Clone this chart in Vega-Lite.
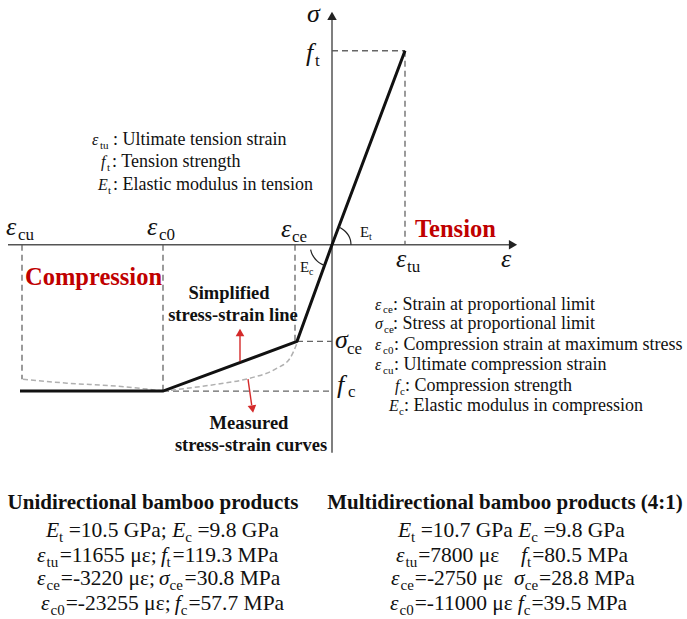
{
  "$schema": "https://vega.github.io/schema/vega-lite/v6.json",
  "width": 687,
  "height": 619,
  "autosize": {"type": "fit", "contains": "padding"},
  "padding": 0,
  "background": "white",
  "config": {"view": {"stroke": null}},
  "datasets": {
    "refs": [
      {"id": "a", "o": 0, "x": -310, "y": 0}, {"id": "a", "o": 1, "x": -310, "y": -135},
      {"id": "b", "o": 0, "x": -169, "y": 0}, {"id": "b", "o": 1, "x": -169, "y": -147},
      {"id": "c", "o": 0, "x": -37, "y": 0}, {"id": "c", "o": 1, "x": -37, "y": -97},
      {"id": "d", "o": 0, "x": -169, "y": -147}, {"id": "d", "o": 1, "x": 0, "y": -147},
      {"id": "e", "o": 0, "x": -35, "y": -97}, {"id": "e", "o": 1, "x": 0, "y": -97},
      {"id": "f", "o": 0, "x": 0, "y": 195}, {"id": "f", "o": 1, "x": 73, "y": 195},
      {"id": "g", "o": 0, "x": 73, "y": 195}, {"id": "g", "o": 1, "x": 73, "y": 0}
    ],
    "measured": [
      {"id": "m1", "o": 0, "x": -309, "y": -135}, {"id": "m1", "o": 1, "x": -265, "y": -139},
      {"id": "m1", "o": 2, "x": -215, "y": -142}, {"id": "m1", "o": 3, "x": -185, "y": -145},
      {"id": "m1", "o": 4, "x": -169, "y": -147},
      {"id": "m2", "o": 0, "x": -169, "y": -147}, {"id": "m2", "o": 1, "x": -115, "y": -140},
      {"id": "m2", "o": 2, "x": -82, "y": -134}, {"id": "m2", "o": 3, "x": -55, "y": -124},
      {"id": "m2", "o": 4, "x": -42, "y": -114}, {"id": "m2", "o": 5, "x": -35, "y": -99}
    ],
    "axes": [
      {"id": "h", "o": 0, "x": -324, "y": 0}, {"id": "h", "o": 1, "x": 180, "y": 0},
      {"id": "v", "o": 0, "x": 0, "y": -209}, {"id": "v", "o": 1, "x": 0, "y": 229}
    ],
    "headRight": [{"x": 181, "y": 0}],
    "headUp": [{"x": 0, "y": 230}],
    "simplified": [
      {"o": 0, "x": 73, "y": 195}, {"o": 1, "x": 0, "y": 0}, {"o": 2, "x": -35, "y": -97},
      {"o": 3, "x": -169, "y": -147}, {"o": 4, "x": -312, "y": -147}
    ],
    "arcs": [
      {"id": "t", "o": 0, "x": 19, "y": 0}, {"id": "t", "o": 1, "x": 18.4, "y": 4.9},
      {"id": "t", "o": 2, "x": 16.5, "y": 9.5}, {"id": "t", "o": 3, "x": 13.4, "y": 13.4},
      {"id": "t", "o": 4, "x": 9.5, "y": 16.5}, {"id": "t", "o": 5, "x": 6.8, "y": 17.7},
      {"id": "c", "o": 0, "x": -21.4, "y": -4.9}, {"id": "c", "o": 1, "x": -20.2, "y": -8.7},
      {"id": "c", "o": 2, "x": -18.0, "y": -12.6}, {"id": "c", "o": 3, "x": -15.0, "y": -16.1},
      {"id": "c", "o": 4, "x": -11.5, "y": -18.8}, {"id": "c", "o": 5, "x": -7.4, "y": -20.7}
    ],
    "redShafts": [
      {"id": "u", "o": 0, "x": -92, "y": -117}, {"id": "u", "o": 1, "x": -92, "y": -90},
      {"id": "d", "o": 0, "x": -84, "y": -135}, {"id": "d", "o": 1, "x": -80.3, "y": -161}
    ],
    "redHeadUp": [{"x": -92, "y": -88}],
    "redHeadDown": [{"x": -79.5, "y": -165}],
    "symBig": [
      {"x": -326, "y": 10, "t": "ε"}, {"x": -185, "y": 10, "t": "ε"}, {"x": -51, "y": 8, "t": "ε"},
      {"x": 64, "y": -22, "t": "ε"}, {"x": 169, "y": -22, "t": "ε"}, {"x": -25, "y": 224, "t": "σ"},
      {"x": -26, "y": 185, "t": "f"}, {"x": 3, "y": -104, "t": "σ"}, {"x": 5, "y": -149, "t": "f"}
    ],
    "subBig": [
      {"x": -314, "y": 5, "t": "cu"}, {"x": -173, "y": 5, "t": "c0"}, {"x": -40, "y": 3, "t": "ce"},
      {"x": 75, "y": -27, "t": "tu"}, {"x": -17, "y": 180, "t": "t"}, {"x": 15, "y": -110, "t": "ce"},
      {"x": 16, "y": -153, "t": "c"}
    ],
    "angleE": [{"x": 28, "y": 8, "t": "E"}, {"x": -32, "y": -27, "t": "E"}],
    "angleSub": [{"x": 37, "y": 5, "t": "t"}, {"x": -23, "y": -30, "t": "c"}],
    "redLbl": [{"x": 83, "y": 8, "t": "Tension"}, {"x": -307, "y": -40, "t": "Compression"}],
    "boldLbl": [
      {"x": -103, "y": -54, "t": "Simplified"}, {"x": -99, "y": -77, "t": "stress-strain line"},
      {"x": -83, "y": -185, "t": "Measured"}, {"x": -81, "y": -207, "t": "stress-strain curves"}
    ],
    "legSym": [
      {"x": -240, "y": 100, "t": "ε"}, {"x": -231, "y": 78, "t": "f"}, {"x": -234, "y": 55, "t": "E"},
      {"x": 43, "y": -65, "t": "ε"}, {"x": 43, "y": -85, "t": "σ"}, {"x": 43, "y": -106, "t": "ε"},
      {"x": 43, "y": -126, "t": "ε"}, {"x": 63, "y": -147, "t": "f"}, {"x": 57, "y": -167, "t": "E"}
    ],
    "legSub": [
      {"x": -232, "y": 96, "t": "tu"}, {"x": -225, "y": 74, "t": "t"}, {"x": -224, "y": 51, "t": "t"},
      {"x": 51, "y": -69, "t": "ce"}, {"x": 52, "y": -89, "t": "ce"}, {"x": 51, "y": -110, "t": "c0"},
      {"x": 51, "y": -130, "t": "cu"}, {"x": 68, "y": -151, "t": "c"}, {"x": 67, "y": -171, "t": "c"}
    ],
    "legTxt": [
      {"x": -219, "y": 100, "t": ": Ultimate tension strain"},
      {"x": -220, "y": 78, "t": ": Tension strength"},
      {"x": -219, "y": 55, "t": ": Elastic modulus in tension"},
      {"x": 61, "y": -65, "t": ": Strain at proportional limit"},
      {"x": 61, "y": -85, "t": ": Stress at proportional limit"},
      {"x": 62, "y": -106, "t": ": Compression strain at maximum stress"},
      {"x": 62, "y": -126, "t": ": Ultimate compression strain"},
      {"x": 73, "y": -147, "t": ": Compression strength"},
      {"x": 72, "y": -167, "t": ": Elastic modulus in compression"}
    ],
    "tabHead": [
      {"x": -179, "y": -265, "t": "Unidirectional bamboo products"},
      {"x": 173, "y": -265, "t": "Multidirectional bamboo products (4:1)"}
    ],
    "tabSym": [
      {"x": -286, "y": -294, "t": "E"}, {"x": -159.8, "y": -294, "t": "E"},
      {"x": -295, "y": -319, "t": "ε"}, {"x": -171, "y": -319, "t": "f"},
      {"x": -295, "y": -342, "t": "ε"}, {"x": -173, "y": -342, "t": "σ"},
      {"x": -291, "y": -367, "t": "ε"}, {"x": -157.3, "y": -367, "t": "f"},
      {"x": 66, "y": -294, "t": "E"}, {"x": 186.2, "y": -294, "t": "E"},
      {"x": 64, "y": -319, "t": "ε"}, {"x": 189, "y": -319, "t": "f"},
      {"x": 59, "y": -342, "t": "ε"}, {"x": 182, "y": -342, "t": "σ"},
      {"x": 58, "y": -367, "t": "ε"}, {"x": 185.7, "y": -367, "t": "f"}
    ],
    "tabSub": [
      {"x": -272.9, "y": -299, "t": "t"}, {"x": -146.7, "y": -299, "t": "c"},
      {"x": -285.5, "y": -324, "t": "tu"}, {"x": -165.5, "y": -324, "t": "t"},
      {"x": -285.5, "y": -347, "t": "ce"}, {"x": -162.5, "y": -347, "t": "ce"},
      {"x": -281.5, "y": -372, "t": "c0"}, {"x": -151.3, "y": -372, "t": "c"},
      {"x": 79.1, "y": -299, "t": "t"}, {"x": 199.3, "y": -299, "t": "c"},
      {"x": 73.5, "y": -324, "t": "tu"}, {"x": 195, "y": -324, "t": "t"},
      {"x": 68.5, "y": -347, "t": "ce"}, {"x": 192.8, "y": -347, "t": "ce"},
      {"x": 67.5, "y": -372, "t": "c0"}, {"x": 191.7, "y": -372, "t": "c"}
    ],
    "tabTxt": [
      {"x": -263.3, "y": -294, "t": "=10.5 GPa;"}, {"x": -134.6, "y": -294, "t": "=9.8 GPa"},
      {"x": -272.3, "y": -319, "t": "=11655 με;"}, {"x": -159.5, "y": -319, "t": "=119.3 MPa"},
      {"x": -271.2, "y": -342, "t": "=-3220 με;"}, {"x": -147.4, "y": -342, "t": "=30.8 MPa"},
      {"x": -266.3, "y": -367, "t": "=-23255 με;"}, {"x": -143.6, "y": -367, "t": "=57.7 MPa"},
      {"x": 88.7, "y": -294, "t": "=10.7 GPa"}, {"x": 211.4, "y": -294, "t": "=9.8 GPa"},
      {"x": 86.2, "y": -319, "t": "=7800 με"}, {"x": 200.2, "y": -319, "t": "=80.5 MPa"},
      {"x": 82.8, "y": -342, "t": "=-2750 με"}, {"x": 207.1, "y": -342, "t": "=28.8 MPa"},
      {"x": 82.7, "y": -367, "t": "=-11000 με"}, {"x": 199.4, "y": -367, "t": "=39.5 MPa"}
    ]
  },
  "encoding": {
    "x": {"field": "x", "type": "quantitative", "scale": {"domain": [-332, 355], "nice": false, "zero": false}, "axis": null},
    "y": {"field": "y", "type": "quantitative", "scale": {"domain": [-376, 243], "nice": false, "zero": false}, "axis": null}
  },
  "layer": [
    {"data": {"name": "refs"}, "mark": {"type": "line", "color": "#666666", "strokeWidth": 1.3, "strokeDash": [6, 4]},
     "encoding": {"detail": {"field": "id"}, "order": {"field": "o"}}},
    {"data": {"name": "measured"}, "mark": {"type": "line", "color": "#b0b0b0", "strokeWidth": 1.5, "strokeDash": [5, 3], "interpolate": "monotone"},
     "encoding": {"detail": {"field": "id"}, "order": {"field": "o"}}},
    {"data": {"name": "axes"}, "mark": {"type": "line", "color": "#555555", "strokeWidth": 1.5},
     "encoding": {"detail": {"field": "id"}, "order": {"field": "o"}}},
    {"data": {"name": "headRight"}, "mark": {"type": "point", "shape": "triangle-right", "filled": true, "color": "#222222", "size": 90, "opacity": 1}},
    {"data": {"name": "headUp"}, "mark": {"type": "point", "shape": "triangle-up", "filled": true, "color": "#222222", "size": 90, "opacity": 1}},
    {"data": {"name": "simplified"}, "mark": {"type": "line", "color": "#111111", "strokeWidth": 3, "strokeJoin": "miter"},
     "encoding": {"order": {"field": "o"}}},
    {"data": {"name": "arcs"}, "mark": {"type": "line", "color": "#222222", "strokeWidth": 1.2, "interpolate": "cardinal"},
     "encoding": {"detail": {"field": "id"}, "order": {"field": "o"}}},
    {"data": {"name": "redShafts"}, "mark": {"type": "line", "color": "#d42a2a", "strokeWidth": 1.4},
     "encoding": {"detail": {"field": "id"}, "order": {"field": "o"}}},
    {"data": {"name": "redHeadUp"}, "mark": {"type": "point", "shape": "triangle-up", "filled": true, "color": "#d42a2a", "size": 75, "opacity": 1}},
    {"data": {"name": "redHeadDown"}, "mark": {"type": "point", "shape": "triangle-down", "filled": true, "color": "#d42a2a", "size": 75, "opacity": 1, "angle": -9}},
    {"data": {"name": "symBig"}, "mark": {"type": "text", "align": "left", "baseline": "alphabetic", "font": "Liberation Serif", "fontSize": 26, "fontStyle": "italic", "color": "#111111"},
     "encoding": {"text": {"field": "t"}}},
    {"data": {"name": "subBig"}, "mark": {"type": "text", "align": "left", "baseline": "alphabetic", "font": "Liberation Serif", "fontSize": 17, "color": "#111111"},
     "encoding": {"text": {"field": "t"}}},
    {"data": {"name": "angleE"}, "mark": {"type": "text", "align": "left", "baseline": "alphabetic", "font": "Liberation Serif", "fontSize": 15, "color": "#111111"},
     "encoding": {"text": {"field": "t"}}},
    {"data": {"name": "angleSub"}, "mark": {"type": "text", "align": "left", "baseline": "alphabetic", "font": "Liberation Serif", "fontSize": 10, "color": "#111111"},
     "encoding": {"text": {"field": "t"}}},
    {"data": {"name": "redLbl"}, "mark": {"type": "text", "align": "left", "baseline": "alphabetic", "font": "Liberation Serif", "fontSize": 24.5, "fontWeight": "bold", "color": "#c00000"},
     "encoding": {"text": {"field": "t"}}},
    {"data": {"name": "boldLbl"}, "mark": {"type": "text", "align": "center", "baseline": "alphabetic", "font": "Liberation Serif", "fontSize": 18.5, "fontWeight": "bold", "color": "#111111"},
     "encoding": {"text": {"field": "t"}}},
    {"data": {"name": "legSym"}, "mark": {"type": "text", "align": "left", "baseline": "alphabetic", "font": "Liberation Serif", "fontSize": 16, "fontStyle": "italic", "color": "#111111"},
     "encoding": {"text": {"field": "t"}}},
    {"data": {"name": "legSub"}, "mark": {"type": "text", "align": "left", "baseline": "alphabetic", "font": "Liberation Serif", "fontSize": 11, "color": "#111111"},
     "encoding": {"text": {"field": "t"}}},
    {"data": {"name": "legTxt"}, "mark": {"type": "text", "align": "left", "baseline": "alphabetic", "font": "Liberation Serif", "fontSize": 18, "color": "#111111"},
     "encoding": {"text": {"field": "t"}}},
    {"data": {"name": "tabHead"}, "mark": {"type": "text", "align": "center", "baseline": "alphabetic", "font": "Liberation Serif", "fontSize": 21, "fontWeight": "bold", "color": "#111111"},
     "encoding": {"text": {"field": "t"}}},
    {"data": {"name": "tabSym"}, "mark": {"type": "text", "align": "left", "baseline": "alphabetic", "font": "Liberation Serif", "fontSize": 21.5, "fontStyle": "italic", "color": "#111111"},
     "encoding": {"text": {"field": "t"}}},
    {"data": {"name": "tabSub"}, "mark": {"type": "text", "align": "left", "baseline": "alphabetic", "font": "Liberation Serif", "fontSize": 15, "color": "#111111"},
     "encoding": {"text": {"field": "t"}}},
    {"data": {"name": "tabTxt"}, "mark": {"type": "text", "align": "left", "baseline": "alphabetic", "font": "Liberation Serif", "fontSize": 21.5, "color": "#111111"},
     "encoding": {"text": {"field": "t"}}}
  ]
}
